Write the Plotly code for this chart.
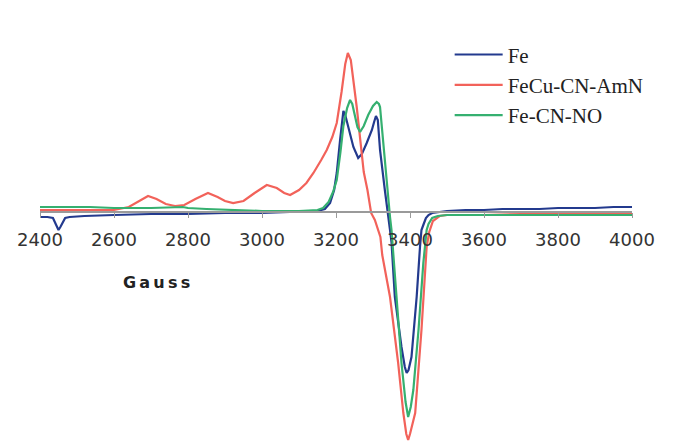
import plotly.graph_objects as go

# ---- data (field in Gauss, signal in arbitrary units; 0 = baseline) ----
fe_x = [2400, 2420, 2435, 2445, 2450, 2455, 2468, 2480, 2520, 2600, 2700, 2800, 2900, 3000,
        3100, 3150, 3170, 3184, 3195, 3202, 3211, 3216, 3220, 3225, 3233, 3247, 3260, 3270,
        3283, 3297, 3303, 3308, 3313, 3319, 3332, 3339, 3346, 3350, 3359, 3377, 3386, 3391,
        3396, 3404, 3418, 3427, 3431, 3436, 3443, 3450, 3460, 3480, 3500, 3550, 3600, 3650,
        3700, 3750, 3800, 3850, 3900, 3950, 4000]
fe_y = [-5, -5, -6, -14, -18, -15, -6, -5, -4, -3, -2, -2, -1, -1,
        0, 1, 3, 9, 22, 39, 72, 92, 101, 97, 85, 65, 54, 58,
        69, 82, 90, 96, 92, 62, 22, -1, -18, -30, -85, -135, -155, -161,
        -158, -145, -85, -35, -18, -13, -6, -3, -1, 0, 1, 2, 2, 3,
        3, 3, 4, 4, 4, 5, 5]

amn_x = [2400, 2500, 2600, 2640, 2670, 2692, 2715, 2740, 2765, 2790, 2820, 2854, 2880, 2900,
         2922, 2950, 2980, 3013, 3040, 3060, 3076, 3100, 3120, 3139, 3160, 3175, 3190, 3202,
         3215, 3225, 3232, 3240, 3256, 3269, 3275, 3285, 3295, 3305, 3312, 3320, 3325, 3346,
         3368, 3382, 3390, 3395, 3400, 3414, 3431, 3445, 3452, 3462, 3480, 3500, 3600, 3700,
         3800, 3900, 4000]
amn_y = [2, 2, 2, 5, 11, 16, 13, 8, 6, 7, 13, 19, 15, 11,
         9, 11, 19, 27, 24, 19, 17, 22, 29, 39, 52, 62, 75, 89,
         120, 148, 159, 152, 105, 62, 40, 22, -1, -8, -15, -25, -43, -85,
         -151, -201, -222, -228, -222, -201, -118, -35, -20, -9, -4, -3, -3, -2,
         -2, -2, -2]

no_x = [2400, 2500, 2535, 2600, 2700, 2786, 2800, 2850, 2913, 3000, 3100, 3150, 3165, 3180,
        3192, 3202, 3212, 3220, 3230, 3238, 3244, 3251, 3258, 3265, 3275, 3287, 3300, 3310,
        3316, 3319, 3325, 3330, 3341, 3346, 3350, 3364, 3377, 3388, 3395, 3402, 3409, 3423,
        3436, 3445, 3450, 3460, 3475, 3500, 3600, 3700, 3800, 3900, 4000]
no_y = [5, 5, 5, 4, 4, 5, 4, 3, 2, 1, 1, 2, 4, 10,
        20, 32, 60, 86, 104, 112, 108, 95, 85, 80, 86, 97, 106, 110,
        108, 105, 80, 56, 12, -5, -18, -85, -151, -190, -205, -195, -178, -118,
        -51, -18, -12, -6, -4, -3, -3, -3, -3, -3, -3]

series_names = ["Fe", "FeCu-CN-AmN", "Fe-CN-NO"]
series_colors = ["#233a8e", "#f2625a", "#35b070"]
tick_vals = [2400, 2600, 2800, 3000, 3200, 3400, 3600, 3800, 4000]
x_title = "G\u2009a\u2009u\u2009s\u2009s"

fig = go.Figure()
for name, xs, ys, col in zip(series_names, [fe_x, amn_x, no_x], [fe_y, amn_y, no_y], series_colors):
    fig.add_trace(go.Scatter(x=xs, y=ys, mode="lines", name=name,
                             line=dict(color=col, width=2.2)))

fig.update_layout(
    width=675, height=446,
    margin=dict(l=40, r=43, t=0, b=0),
    paper_bgcolor="white", plot_bgcolor="white",
    showlegend=True,
    legend=dict(x=0.692, y=0.923, xanchor="left", yanchor="top", itemwidth=48,
                font=dict(family="Liberation Serif", size=21, color="#222"),
                bgcolor="rgba(0,0,0,0)", borderwidth=0, tracegroupgap=0),
    xaxis=dict(range=[2400, 4000], anchor="free", position=234 / 446,
               showline=True, linecolor="#9a9a9a", linewidth=1.5,
               ticks="outside", ticklen=5, tickcolor="#9a9a9a", tickwidth=1,
               tickvals=tick_vals, ticklabelstandoff=7,
               tickfont=dict(family="DejaVu Sans", size=18, color="#333"),
               showgrid=False, zeroline=False),
    yaxis=dict(range=[-234, 212], visible=False, showgrid=False, zeroline=False),
    annotations=[dict(text="<b>" + x_title + "</b>", x=2716, y=-70,
                      xref="x", yref="y", showarrow=False,
                      font=dict(family="DejaVu Sans", size=16, color="#222"))],
)
fig.write_html("out.html", config={"displayModeBar": False},
               post_script="document.body.style.margin='0';")
